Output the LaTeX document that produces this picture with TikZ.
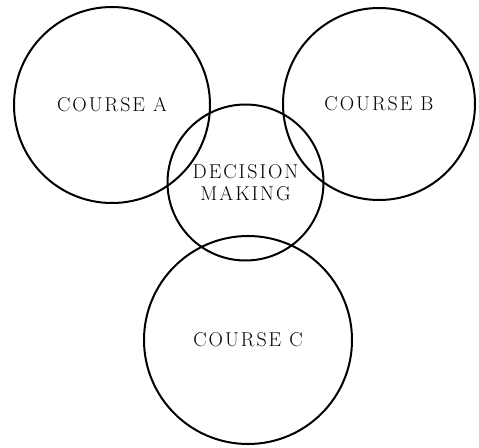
\documentclass[tikz,border=0pt]{standalone}
\usepackage{fontspec}
\newfontfamily\ringfont{Latin Modern Roman}[LetterSpace=10]
\usepackage{tikz}

\tikzset{
  ring/.style={draw, circle, line width=2pt, inner sep=0pt, align=center,
    font=\ringfont\fontsize{20}{22}\selectfont}
}

\begin{document}
\begin{tikzpicture}[x=1pt,y=-1pt]
  \useasboundingbox (0,0) rectangle (479,447);
  \node[ring, minimum size=196pt] (courseA) at (112,105) {COURSE A};
  \node[ring, minimum size=192pt] (courseB) at (379,104) {COURSE B};
  \node[ring, minimum size=208pt] (courseC) at (248,340) {COURSE C};
  \node[ring, minimum size=156pt] (decision) at (245.5,182.5) {DECISION\\MAKING};
\end{tikzpicture}
\end{document}
